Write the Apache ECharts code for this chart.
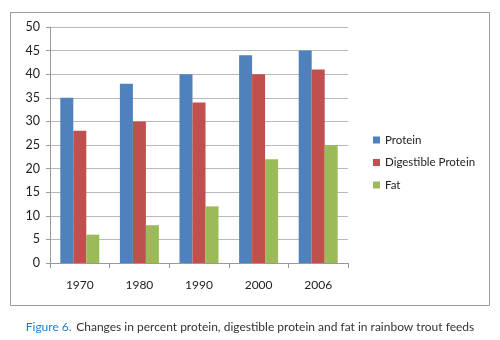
<!DOCTYPE html>
<html><head><meta charset="utf-8">
<script src="https://cdn.jsdelivr.net/npm/echarts@6/dist/echarts.min.js"></script>
<style>html,body{margin:0;padding:0;background:#fff}#c{width:500px;height:340px}</style>
</head><body><div id="c"></div>
<script>
const categories = ['1970','1980','1990','2000','2006'];
const protein = [35,38,40,44,45];
const digestibleProtein = [28,30,34,40,41];
const fat = [6,8,12,22,25];
const seriesNames = ['Protein','Digestible Protein','Fat'];
const yTicks = {min:0, max:50, interval:5};

const chart = echarts.init(document.getElementById('c'), null, {renderer:'canvas'});
const font = 'Lato, "Open Sans", sans-serif';
chart.setOption({
  animation:false,
  textStyle:{fontFamily:font},
  graphic:[{type:'rect', shape:{x:10.5,y:12.5,width:479,height:293}, style:{fill:'none', stroke:'#9a9a9a', lineWidth:1}, z:-1}],
  title:{
    text:'{a|Figure 6.} {b|Changes in percent protein, digestible protein and fat in rainbow trout feeds}',
    left:'center', top:313,
    textStyle:{fontWeight:'normal', rich:{
      a:{color:'#1a7fd6', fontSize:12, fontWeight:'normal', fontFamily:font},
      b:{color:'#333', fontSize:12, fontWeight:'normal', fontFamily:font}
    }}
  },
  legend:{
    orient:'vertical', left:368, top:129, itemWidth:7, itemHeight:7, itemGap:10.5,
    icon:'rect',
    textStyle:{fontSize:11.5, color:'#222', fontFamily:font},
    data:seriesNames
  },
  grid:{left:50, right:152, top:27, bottom:77},
  xAxis:{
    type:'category', data:categories,
    axisLine:{lineStyle:{color:'#999'}},
    axisTick:{show:true, length:5, lineStyle:{color:'#999'}},
    axisLabel:{fontSize:12, color:'#222', margin:16, fontFamily:font}
  },
  yAxis:{
    type:'value', min:yTicks.min, max:yTicks.max, interval:yTicks.interval,
    axisLine:{show:true, lineStyle:{color:'#999'}},
    axisTick:{show:true, length:4, lineStyle:{color:'#999'}},
    axisLabel:{fontSize:12.5, color:'#222', margin:10, fontFamily:font},
    splitLine:{lineStyle:{color:'#b8b8b8'}}
  },
  series:[
    {name:seriesNames[0], type:'bar', data:protein, barWidth:13, barGap:'0%', itemStyle:{color:'#4F81BD'}},
    {name:seriesNames[1], type:'bar', data:digestibleProtein, barWidth:13, barGap:'0%', itemStyle:{color:'#C0504D'}},
    {name:seriesNames[2], type:'bar', data:fat, barWidth:13, barGap:'0%', itemStyle:{color:'#9BBB59'}}
  ]
});
</script></body></html>
